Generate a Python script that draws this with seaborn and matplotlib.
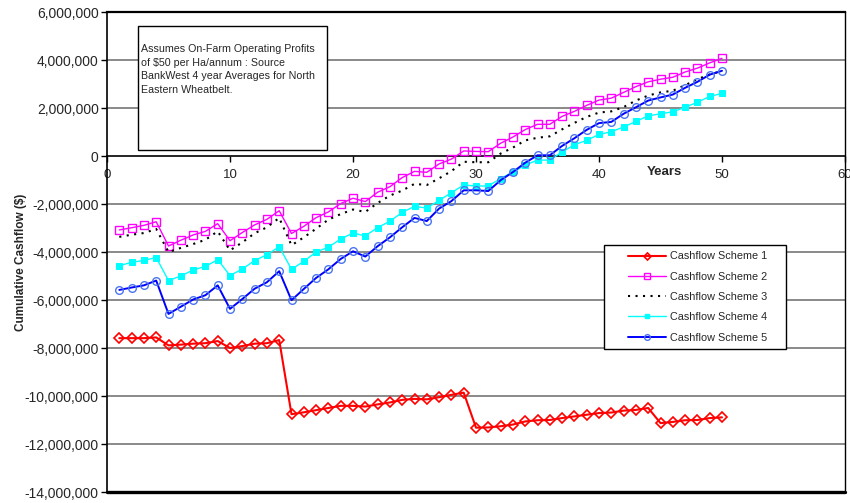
import matplotlib
matplotlib.use("Agg")
import matplotlib.pyplot as plt
from matplotlib.ticker import FuncFormatter
from matplotlib.patches import Rectangle
from matplotlib.lines import Line2D
import numpy as np
import pandas as pd
import seaborn as sns

# Cumulative cashflow by year, in millions of dollars
years = list(range(1, 51))

scheme_1 = [-7.59, -7.59, -7.59, -7.56, -7.89, -7.86, -7.82, -7.80, -7.71, -8.00,
            -7.92, -7.82, -7.80, -7.67, -10.76, -10.68, -10.59, -10.50, -10.41, -10.41,
            -10.44, -10.35, -10.27, -10.16, -10.12, -10.14, -10.05, -9.95, -9.86, -11.32,
            -11.31, -11.26, -11.19, -11.06, -11.01, -11.00, -10.92, -10.85, -10.78, -10.71,
            -10.69, -10.61, -10.58, -10.50, -11.13, -11.08, -11.01, -11.00, -10.92, -10.89]

scheme_2 = [-3.08, -2.99, -2.89, -2.74, -3.75, -3.51, -3.29, -3.14, -2.82, -3.53,
            -3.19, -2.87, -2.64, -2.28, -3.23, -2.93, -2.57, -2.33, -1.98, -1.76,
            -1.90, -1.51, -1.28, -0.90, -0.64, -0.68, -0.33, -0.13, 0.21, 0.19,
            0.18, 0.53, 0.79, 1.10, 1.32, 1.32, 1.65, 1.86, 2.11, 2.33,
            2.41, 2.65, 2.89, 3.09, 3.20, 3.28, 3.50, 3.66, 3.88, 4.07]

scheme_3 = [-3.37, -3.28, -3.21, -3.04, -4.00, -3.83, -3.67, -3.49, -3.14, -3.93,
            -3.60, -3.22, -2.97, -2.58, -3.72, -3.39, -3.03, -2.65, -2.42, -2.23,
            -2.33, -1.96, -1.65, -1.44, -1.16, -1.21, -0.93, -0.63, -0.24, -0.26,
            -0.26, 0.10, 0.35, 0.65, 0.76, 0.82, 1.11, 1.38, 1.63, 1.81,
            1.86, 2.04, 2.31, 2.52, 2.65, 2.72, 2.95, 3.20, 3.40, 3.54]

scheme_4 = [-4.57, -4.43, -4.35, -4.23, -5.19, -5.00, -4.75, -4.60, -4.32, -4.98,
            -4.71, -4.36, -4.11, -3.78, -4.72, -4.39, -4.00, -3.80, -3.46, -3.21,
            -3.33, -2.98, -2.72, -2.35, -2.10, -2.17, -1.85, -1.53, -1.21, -1.25,
            -1.25, -0.94, -0.67, -0.38, -0.17, -0.17, 0.17, 0.47, 0.65, 0.90,
            1.01, 1.21, 1.44, 1.67, 1.76, 1.84, 2.03, 2.24, 2.48, 2.61]

scheme_5 = [-5.58, -5.48, -5.39, -5.19, -6.58, -6.28, -5.98, -5.80, -5.39, -6.37,
            -5.96, -5.53, -5.26, -4.80, -6.01, -5.54, -5.08, -4.72, -4.29, -3.97,
            -4.19, -3.76, -3.39, -2.97, -2.58, -2.71, -2.19, -1.88, -1.43, -1.43,
            -1.46, -1.01, -0.67, -0.28, 0.03, 0.03, 0.42, 0.74, 1.09, 1.37,
            1.42, 1.76, 2.03, 2.31, 2.44, 2.56, 2.84, 3.09, 3.39, 3.55]

series_names = ["Cashflow Scheme 1", "Cashflow Scheme 2", "Cashflow Scheme 3",
                "Cashflow Scheme 4", "Cashflow Scheme 5"]
y_ticks = list(range(-14_000_000, 6_000_001, 2_000_000))
x_ticks = [0, 10, 20, 30, 40, 50, 60]
note = ("Assumes On-Farm Operating Profits\n"
        "of $50 per Ha/annum : Source\n"
        "BankWest 4 year Averages for North\n"
        "Eastern Wheatbelt.")

df = pd.DataFrame({"Year": years})
for name, vals in zip(series_names, [scheme_1, scheme_2, scheme_3, scheme_4, scheme_5]):
    df[name] = np.array(vals) * 1_000_000

sns.set_style("white")
plt.rcParams["font.family"] = ["Liberation Sans", "DejaVu Sans"]

fig = plt.figure(figsize=(8.5, 5.03), dpi=100)
ax = fig.add_axes([107 / 850, 1 - 492 / 503, 738 / 850, 480 / 503])

styles = {
    "Cashflow Scheme 1": dict(color="#FF0000", lw=1.5, marker="D", ms=4.8,
                              mfc="none", mec="#FF0000", mew=1.2),
    "Cashflow Scheme 2": dict(color="#FF00FF", lw=1.0, marker="s", ms=5.5,
                              mfc="none", mec="#FF00FF", mew=1.0),
    "Cashflow Scheme 3": dict(color="black", lw=1.5, linestyle=(0, (1, 2.6))),
    "Cashflow Scheme 4": dict(color="#00FFFF", lw=1.0, marker="s", ms=4.5,
                              mfc="#00FFFF", mec="#00FFFF"),
    "Cashflow Scheme 5": dict(color="#0000FF", lw=1.4, marker="o", ms=5.5,
                              mfc="none", mec="#4A74F0", mew=1.0),
}

for name in series_names:
    sns.lineplot(data=df, x="Year", y=name, ax=ax, legend=False, zorder=3, **styles[name])

ax.set_xlim(0, 60)
ax.set_ylim(-14_000_000, 6_000_000)
ax.set_yticks(y_ticks)
ax.set_xticks(x_ticks)
ax.yaxis.set_major_formatter(FuncFormatter(lambda v, p: f"{v:,.0f}"))
ax.xaxis.set_major_formatter(FuncFormatter(lambda v, p: f"{v:.0f}"))

# horizontal gridlines
ax.grid(False)
for yv in y_ticks[1:-1]:
    if yv != 0:
        ax.axhline(yv, color="#808080", lw=1.3, zorder=1)

# frame: x axis crosses at zero, bold border at the bottom
ax.spines["bottom"].set_position(("data", 0))
ax.spines["bottom"].set_color("black")
ax.spines["bottom"].set_linewidth(1.2)
ax.spines["left"].set_color("black")
ax.spines["left"].set_linewidth(1.2)
ax.spines["top"].set_color("black")
ax.spines["top"].set_linewidth(1.6)
ax.spines["right"].set_color("black")
ax.spines["right"].set_linewidth(1.0)
ax.axhline(-14_000_000, color="black", lw=2.4, clip_on=False, zorder=4)

ax.tick_params(axis="y", direction="out", length=4, width=1, color="black",
               labelsize=10, left=True, pad=2)
ax.tick_params(axis="x", direction="out", length=4, width=1, color="black",
               labelsize=9.5, bottom=True, pad=5)

ax.set_ylabel("Cumulative Cashflow ($)", fontsize=8.5, fontweight="bold")
ax.yaxis.set_label_coords(-0.109, (492 - 262) / 480)
ax.set_xlabel("Years", fontsize=9.5, fontweight="bold")
ax.xaxis.set_label_coords(45.3 / 60, (492 - 172) / 480)
ax.xaxis.label.set_va("center")

# note box
ax.add_patch(Rectangle((0.0416, 0.7125), 0.2561, 0.259, transform=ax.transAxes,
                       facecolor="white", edgecolor="black", lw=1.0, zorder=5))
ax.text(0.0457, (492 - 44) / 480, note, transform=ax.transAxes, fontsize=7.7, va="top",
        ha="left", linespacing=1.45, zorder=6)

# legend box
ax.add_patch(Rectangle((0.673, 0.298), 0.247, 0.217, transform=ax.transAxes,
                       facecolor="white", edgecolor="black", lw=1.0, zorder=5))
handles = []
for name in series_names:
    st = dict(styles[name])
    st["ms"] = st.get("ms", 0) * 0.75 if "marker" in st else 0
    handles.append(Line2D([], [], **st))
leg = ax.legend(handles, series_names, loc="upper left",
                bbox_to_anchor=((633 - 107) / 738 - 0.012, (492 - 247) / 480),
                frameon=False, fontsize=7.8, handlelength=3.5, handletextpad=0.3,
                labelspacing=0.95, borderpad=0.4, borderaxespad=0)
leg.set_zorder(7)

fig.savefig("out.png", dpi=100)
